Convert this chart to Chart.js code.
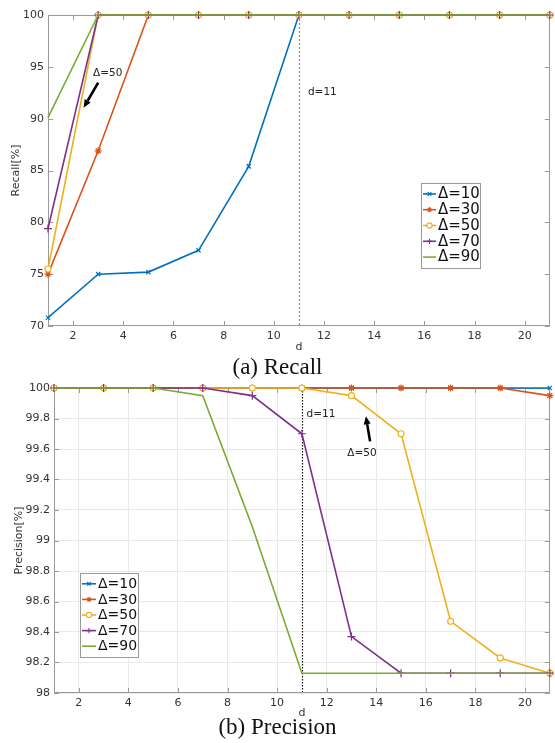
<!DOCTYPE html>
<html>
<head>
<meta charset="utf-8">
<script src="https://cdn.jsdelivr.net/npm/chart.js@4.4.1/dist/chart.umd.min.js"></script>
<style>
body { margin: 0; background: #fff; width: 555px; height: 743px; position: relative; overflow: hidden; }
canvas { position: absolute; left: 0; }
#recall { top: 0; }
#precision { top: 370px; }
.cap { position: absolute; left: 0; width: 555px; text-align: center; font-family: "Liberation Serif", serif; font-size: 23px; line-height: 1; color: #111; }
</style>
</head>
<body>
<canvas id="recall" width="555" height="354"></canvas>
<canvas id="precision" width="555" height="350"></canvas>
<div class="cap" style="top:355px">(a) Recall</div>
<div class="cap" style="top:715px">(b) Precision</div>
<script>
// data
const dVals = [1, 3, 5, 7, 9, 11, 13, 15, 17, 19, 21];
const deltaLabels = ['Δ=10', 'Δ=30', 'Δ=50', 'Δ=70', 'Δ=90'];

const recall10 = [70.8, 75, 75.2, 77.3, 85.4, 100, 100, 100, 100, 100, 100];
const recall30 = [75, 86.9, 100, 100, 100, 100, 100, 100, 100, 100, 100];
const recall50 = [75.5, 100, 100, 100, 100, 100, 100, 100, 100, 100, 100];
const recall70 = [79.4, 100, 100, 100, 100, 100, 100, 100, 100, 100, 100];
const recall90 = [90.1, 100, 100, 100, 100, 100, 100, 100, 100, 100, 100];

const prec10 = [100, 100, 100, 100, 100, 100, 100, 100, 100, 100, 100];
const prec30 = [100, 100, 100, 100, 100, 100, 100, 100, 100, 100, 99.95];
const prec50 = [100, 100, 100, 100, 100, 100, 99.95, 99.7, 98.47, 98.23, 98.13];
const prec70 = [100, 100, 100, 100, 99.95, 99.7, 98.37, 98.13, 98.13, 98.13, 98.13];
const prec90 = [100, 100, 100, 99.95, 99.09, 98.13, 98.13, 98.13, 98.13, 98.13, 98.13];

const xTicks = [2, 4, 6, 8, 10, 12, 14, 16, 18, 20];
const recallTicks = [70, 75, 80, 85, 90, 95, 100];
const precTicks = [98, 98.2, 98.4, 98.6, 98.8, 99, 99.2, 99.4, 99.6, 99.8, 100];

// matlab default colours and markers
const colors = ['#0072BD', '#D95319', '#EDB120', '#7E2F8E', '#77AC30'];
const markers = [
    {style: 'crossRot', radius: 3},
    {style: 'star', radius: 3.5},
    {style: 'circle', radius: 3},
    {style: 'cross', radius: 4},
    {style: false, radius: 0}
];
const txt = '#333';
const sans = 'DejaVu Sans';

function makeSets(series) {
    return series.map(function (vals, i) {
        var fill = i === 2 ? '#fff' : colors[i];
        return {
            label: deltaLabels[i],
            data: dVals.map(function (d, j) { return {x: d, y: vals[j]}; }),
            borderColor: colors[i],
            backgroundColor: fill,
            pointBorderColor: colors[i],
            pointBackgroundColor: fill,
            pointStyle: markers[i].style,
            pointRadius: markers[i].radius,
            pointBorderWidth: 1.2,
            borderWidth: 1.6,
            tension: 0,
            clip: false,
            order: 5 - i
        };
    });
}

function pt(chart, x, y) {
    return [chart.scales.x.getPixelForValue(x), chart.scales.y.getPixelForValue(y)];
}

// box, inward ticks, dotted d=11 line, notes and the legend
const framePlugin = {
    id: 'frame',
    beforeDatasetsDraw(chart, args, opts) {
        var ctx = chart.ctx, a = chart.chartArea;
        var xs = chart.scales.x, ys = chart.scales.y;
        ctx.save();
        if (opts.vline) {
            var vx = Math.round(xs.getPixelForValue(opts.vline.x)) + 0.5;
            ctx.strokeStyle = opts.vline.color;
            ctx.lineWidth = 1.2;
            ctx.setLineDash(opts.vline.dash);
            ctx.beginPath();
            ctx.moveTo(vx, a.top);
            ctx.lineTo(vx, a.bottom);
            ctx.stroke();
            ctx.setLineDash([]);
        }
        ctx.strokeStyle = '#9a9a9a';
        ctx.lineWidth = 1;
        ctx.beginPath();
        xs.ticks.forEach(function (t) {
            var px = Math.round(xs.getPixelForValue(t.value)) + 0.5;
            ctx.moveTo(px, a.bottom); ctx.lineTo(px, a.bottom - 5);
            ctx.moveTo(px, a.top); ctx.lineTo(px, a.top + 5);
        });
        ys.ticks.forEach(function (t) {
            var py = Math.round(ys.getPixelForValue(t.value)) + 0.5;
            ctx.moveTo(a.left, py); ctx.lineTo(a.left + 5, py);
            ctx.moveTo(a.right, py); ctx.lineTo(a.right - 5, py);
        });
        ctx.stroke();
        ctx.strokeRect(Math.round(a.left) + 0.5, Math.round(a.top) + 0.5,
            Math.round(a.right - a.left) - 1, Math.round(a.bottom - a.top) - 1);
        ctx.restore();
    },
    afterDatasetsDraw(chart, args, opts) {
        var ctx = chart.ctx;
        ctx.save();
        ctx.fillStyle = '#222';
        ctx.textBaseline = 'middle';
        (opts.notes || []).forEach(function (n) {
            var p = pt(chart, n.x, n.y);
            ctx.font = '10.5px "' + sans + '"';
            ctx.textAlign = n.align;
            ctx.fillText(n.text, p[0], p[1]);
        });
        (opts.arrows || []).forEach(function (ar) {
            var p0 = pt(chart, ar.x0, ar.y0), p1 = pt(chart, ar.x1, ar.y1);
            var ang = Math.atan2(p1[1] - p0[1], p1[0] - p0[0]);
            var hl = 8, hw = 3.5;
            var bx = p1[0] - hl * Math.cos(ang), by = p1[1] - hl * Math.sin(ang);
            ctx.strokeStyle = '#000';
            ctx.fillStyle = '#000';
            ctx.lineWidth = 2.6;
            ctx.beginPath();
            ctx.moveTo(p0[0], p0[1]);
            ctx.lineTo(bx, by);
            ctx.stroke();
            ctx.beginPath();
            ctx.moveTo(p1[0], p1[1]);
            ctx.lineTo(bx + hw * Math.sin(ang), by - hw * Math.cos(ang));
            ctx.lineTo(bx - hw * Math.sin(ang), by + hw * Math.cos(ang));
            ctx.closePath();
            ctx.fill();
        });

        var lg = opts.legend;
        if (lg) {
            var h = lg.rowH * deltaLabels.length + 6;
            ctx.fillStyle = '#fff';
            ctx.fillRect(lg.x, lg.y, lg.w, h);
            ctx.strokeStyle = '#999';
            ctx.lineWidth = 1;
            ctx.strokeRect(lg.x + 0.5, lg.y + 0.5, lg.w, h);
            ctx.font = lg.size + 'px "' + sans + '"';
            ctx.textAlign = 'left';
            deltaLabels.forEach(function (lab, i) {
                var cy = lg.y + 3 + lg.rowH * (i + 0.5);
                var x0 = lg.x + 2, x1 = lg.x + 2 + lg.line;
                ctx.strokeStyle = colors[i];
                ctx.lineWidth = 1.6;
                ctx.beginPath();
                ctx.moveTo(x0, cy);
                ctx.lineTo(x1, cy);
                ctx.stroke();
                if (markers[i].style && Chart.helpers && Chart.helpers.drawPoint) {
                    ctx.fillStyle = i === 2 ? '#fff' : colors[i];
                    ctx.lineWidth = 1.1;
                    Chart.helpers.drawPoint(ctx, {pointStyle: markers[i].style, radius: 2.6, rotation: 0, borderWidth: 1.1},
                        (x0 + x1) / 2, cy);
                }
                ctx.fillStyle = '#111';
                ctx.fillText(lab, x1 + 2, cy + 0.5);
            });
        }
        ctx.restore();
    }
};

function scaleOpts(min, max, tickList, axisW, axisH, yTitle, titlePad, grid) {
    var tickFont = {family: sans, size: 11};
    var gridOpts = grid ? {display: true, drawTicks: false, color: '#e9e9e9', lineWidth: 1}
                        : {display: false, drawTicks: false};
    return {
        x: {
            type: 'linear', min: 1, max: 21,
            afterBuildTicks: function (s) { s.ticks = xTicks.map(function (v) { return {value: v}; }); },
            afterFit: function (s) { s.height = axisH; },
            grid: gridOpts,
            border: {display: false},
            ticks: {padding: 4, color: txt, font: tickFont, maxRotation: 0, autoSkip: false},
            title: {display: true, text: 'd', color: txt, font: tickFont, padding: {top: 0, bottom: 0}}
        },
        y: {
            type: 'linear', min: min, max: max,
            afterBuildTicks: function (s) { s.ticks = tickList.map(function (v) { return {value: v}; }); },
            afterFit: function (s) { s.width = axisW; },
            grid: gridOpts,
            border: {display: false},
            ticks: {
                padding: 4, color: txt, font: tickFont, autoSkip: false,
                callback: function (v) { return String(Math.round(v * 10) / 10); }
            },
            title: {display: true, text: yTitle, color: txt, font: tickFont, padding: {top: titlePad, bottom: 0}}
        }
    };
}

new Chart(document.getElementById('recall').getContext('2d'), {
    type: 'line',
    data: {datasets: makeSets([recall10, recall30, recall50, recall70, recall90])},
    options: {
        responsive: false,
        animation: false,
        layout: {padding: {top: 15, right: 1, left: 0, bottom: 0}},
        scales: scaleOpts(70, 100, recallTicks, 48, 28, 'Recall[%]', 10, false),
        plugins: {
            legend: {display: false},
            tooltip: {enabled: false},
            frame: {
                vline: {x: 11, color: '#8c8c8c', dash: [2, 2]},
                notes: [
                    {x: 11.36, y: 92.5, text: 'd=11', align: 'left'},
                    {x: 3.38, y: 94.4, text: 'Δ=50', align: 'center'}
                ],
                arrows: [{x0: 3.0, y0: 93.47, x1: 2.42, y1: 91.06}],
                legend: {x: 421, y: 183, w: 59, rowH: 15.8, line: 13, size: 15}
            }
        }
    },
    plugins: [framePlugin]
});

new Chart(document.getElementById('precision').getContext('2d'), {
    type: 'line',
    data: {datasets: makeSets([prec10, prec30, prec50, prec70, prec90])},
    options: {
        responsive: false,
        animation: false,
        layout: {padding: {top: 18, right: 4, left: 0, bottom: 0}},
        scales: scaleOpts(98, 100, precTicks, 54, 27, 'Precision[%]', 13, true),
        plugins: {
            legend: {display: false},
            tooltip: {enabled: false},
            frame: {
                vline: {x: 11, color: '#111', dash: [1.5, 1.5]},
                notes: [
                    {x: 11.19, y: 99.83, text: 'd=11', align: 'left'},
                    {x: 13.42, y: 99.57, text: 'Δ=50', align: 'center'}
                ],
                arrows: [{x0: 13.75, y0: 99.65, x1: 13.58, y1: 99.815}],
                legend: {x: 80, y: 203, w: 58, rowH: 15.6, line: 14, size: 14}
            }
        }
    },
    plugins: [framePlugin]
});
</script>
</body>
</html>
